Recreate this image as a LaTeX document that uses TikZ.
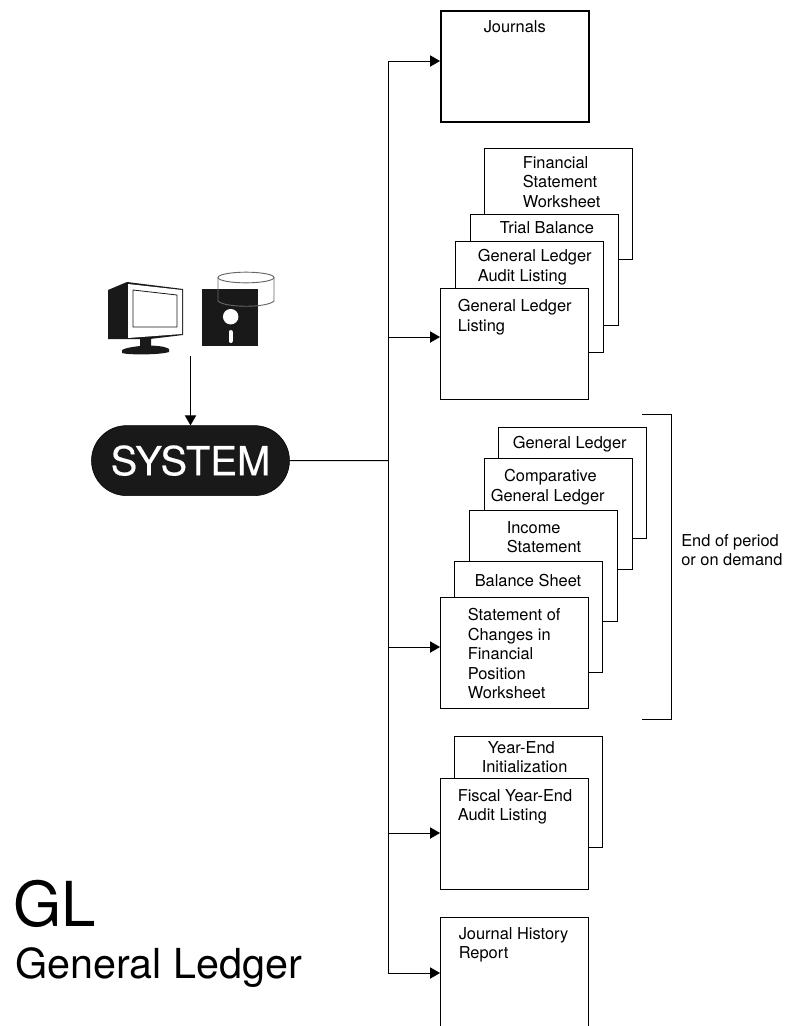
\documentclass[tikz,border=0pt]{standalone}
\usepackage{fontspec}
\setmainfont{TeX Gyre Heros}
\usetikzlibrary{arrows.meta,shapes.misc}
\newcommand*{\sheet}[5][]{%
  \node [sheetbox, #1] (#2) at (#3) {};
  \node [sheettext] (#2T) at ([shift={(#4)}]#2.north west) {#5};
}
\tikzset{
  x=0.75pt, y=-0.75pt,
  sheetbox/.style = {draw, fill=white, line width=0.7pt, anchor=north west, minimum width=111pt, minimum height=83pt, inner sep=0pt},
  sheettext/.style = {anchor=north west, inner sep=0pt, align=left, font=\fontsize{12.3}{14.7}\selectfont},
  feed/.style = {line width=0.7pt, -{Triangle[length=7.5pt,width=8.5pt]}},
  wire/.style = {line width=0.7pt},
}
\begin{document}
\begin{tikzpicture}
  \useasboundingbox (0,0) rectangle (791,1026);

  \sheet[line width=1.6pt]{journals}{439.5,10}{44,10}{Journals}

  \sheet{worksheet}{483.5,148}{39,8}{Financial\\Statement\\Worksheet}
  \sheet{trial}{469.5,214}{30,7}{Trial Balance}
  \sheet{audit}{454.5,241}{23,8}{General Ledger\\Audit Listing}
  \sheet{listing}{439.5,288}{18,11}{General Ledger\\Listing}

  \sheet{ledger}{497.5,427}{15,9}{General Ledger}
  \sheet{comparative}{483.5,458}{7,11}{\hspace{10pt}Comparative\\General Ledger}
  \sheet{income}{468.5,510}{38,11}{Income\\Statement}
  \sheet{balance}{453.5,561}{21,13}{Balance Sheet}
  \sheet{changes}{439.5,597}{28,11}{Statement of\\Changes in\\Financial\\Position\\Worksheet}

  \sheet{initial}{453.5,736}{28,5}{\hspace{4.5pt}Year-End\\Initialization}
  \sheet{fiscal}{439.5,778}{18,11}{Fiscal Year-End\\Audit Listing}

  \sheet{history}{439.5,917}{19,10}{Journal History\\Report}

  \node [draw=black, fill=black!90, text=white, rounded rectangle, minimum width=148.5pt, minimum height=52.5pt, inner sep=0pt, font=\fontsize{30}{30}\selectfont\addfontfeature{FakeBold=0.4}] (system) at (190.5,460.6) {SYSTEM};

  % monitor
  \fill [black!90] (108,290) -- (127,282) -- (183,289) -- (183,335) -- (150,339) -- (108,339) -- cycle;
  \fill [white] (128,284) -- (182,290) -- (182,334) -- (128,338) -- cycle;
  \draw [draw=black!90, fill=white, line width=0.6pt] (133,290) -- (177,295) -- (177,327) -- (133,327) -- cycle;
  \fill [black!90] (140,338) -- (151,337) -- (151,347) -- (140,347) -- cycle;
  \fill [black!90] (122,350) .. controls (128,346) and (160,343) .. (169,349) -- (169,352) .. controls (160,355) and (128,355) .. (122,353) -- cycle;

  % disk
  \fill [black!90] (202,289) rectangle (258,346);
  \fill [white] (230.7,316.7) circle [radius=5.8pt];
  \draw [white, line width=3pt, line cap=round] (230.5,332) -- (230.5,341);
  \draw [black!60, line width=0.7pt] (218,277.5) -- (218,301) .. controls (225,308) and (267,308) .. (274,301) -- (274,277.5);
  \draw [black!60, line width=0.7pt] (246,277.5) ellipse [x radius=21pt, y radius=4pt];

  \coordinate (source) at (190.5,356);
  \coordinate (hub) at (388,460.6);
  \coordinate (journalsIn) at (440,61);
  \coordinate (listingIn) at (440,337);
  \coordinate (changesIn) at (440,647);
  \coordinate (fiscalIn) at (440,833);
  \coordinate (historyIn) at (440,973);

  \draw [feed] (source) -- (system);
  \draw [wire] (system) -- (hub);
  \draw [feed] (hub) |- (journalsIn);
  \draw [feed] (hub) |- (listingIn);
  \draw [feed] (hub) |- (changesIn);
  \draw [feed] (hub) |- (fiscalIn);
  \draw [feed] (hub) |- (historyIn);

  \coordinate (bracketA) at (642,414);
  \coordinate (bracketB) at (671,414);
  \coordinate (bracketC) at (671,719);
  \coordinate (bracketD) at (642,719);
  \draw [wire] (bracketA) -- (bracketB) -- (bracketC) -- (bracketD);
  \node [sheettext] (period) at (681,534) {End of period\\or on demand};

  \node [anchor=north west, inner sep=0pt, font=\fontsize{46.5}{46.5}\selectfont] (code) at (13,880) {GL};
  \node [anchor=north west, inner sep=0pt, font=\fontsize{31}{31}\selectfont] (title) at (15,947) {General Ledger};
\end{tikzpicture}
\end{document}
